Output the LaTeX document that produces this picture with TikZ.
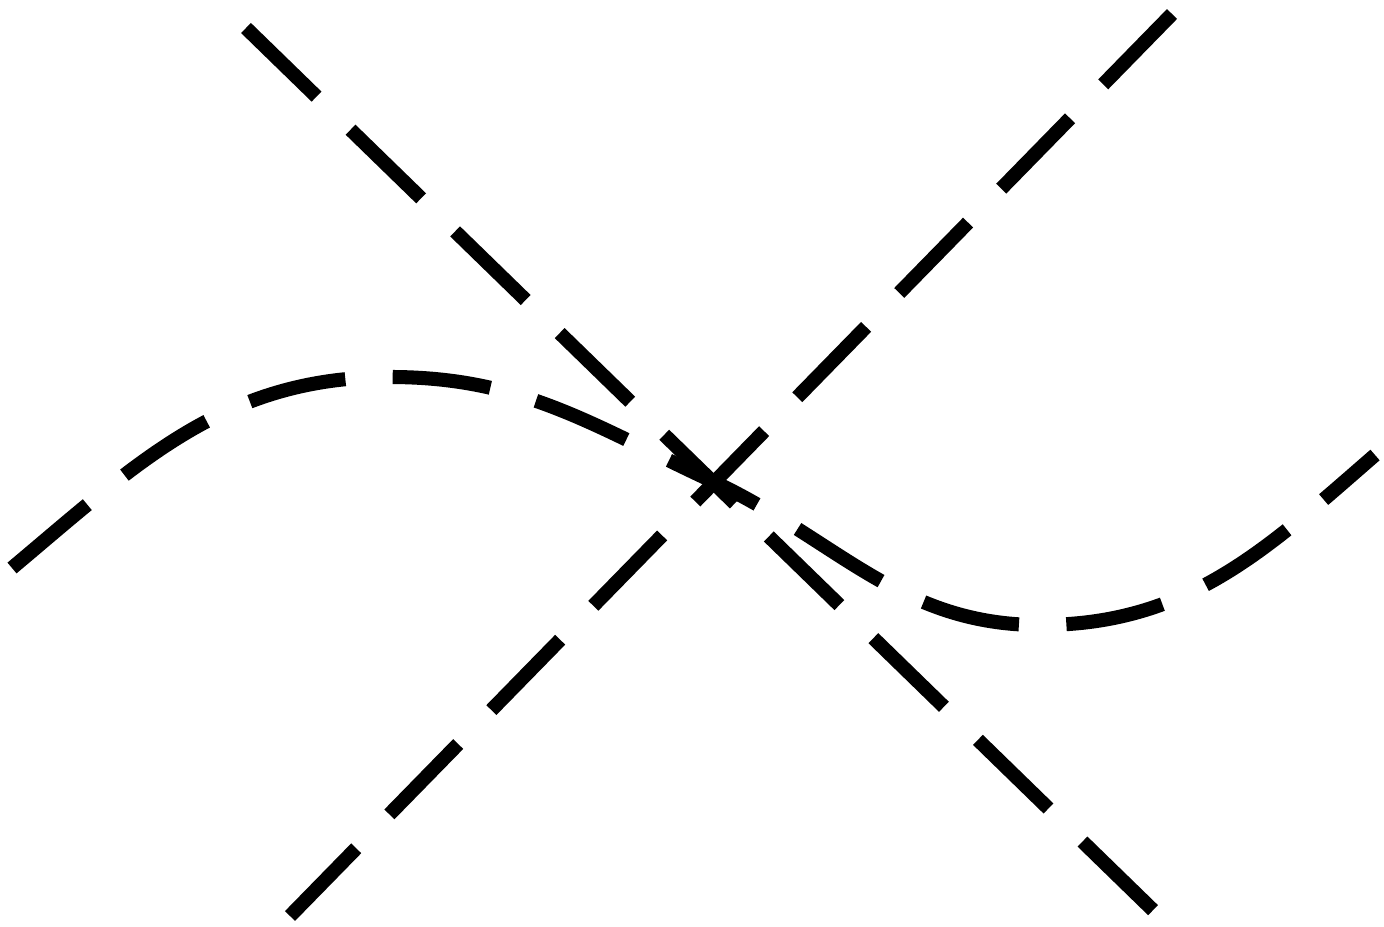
\documentclass[tikz,border=0pt]{standalone}
\usepackage{tikz}
\usetikzlibrary{calc,positioning}

\begin{document}
\begin{tikzpicture}[dashline/.style={line width=4pt, dash pattern=on 28pt off 13.5pt}]
    \useasboundingbox (0,0) rectangle (13.84,9.26);
    % crossing point
    \coordinate (C) at (7.10,4.46);
    % ends of the two straight lines
    \coordinate (A1) at (2.46,8.98);
    \coordinate (A2) at (11.58,0.11);
    \coordinate (B1) at (11.72,9.12);
    \coordinate (B2) at (2.90,0.10);
    % points of the curve
    \coordinate (L) at (0.12,3.58);
    \coordinate (P) at (3.90,5.49);
    \coordinate (T) at (10.40,3.01);
    \coordinate (R) at (13.75,4.71);

    \draw[dashline] (A1) -- (A2);
    \draw[dashline] (B1) -- (B2);
    \draw[dashline] (L) to[out=40,in=180] (P) to[out=0,in=155] (C)
        to[out=-25,in=180] (T) to[out=0,in=221] (R);
  \end{tikzpicture}
\end{document}
